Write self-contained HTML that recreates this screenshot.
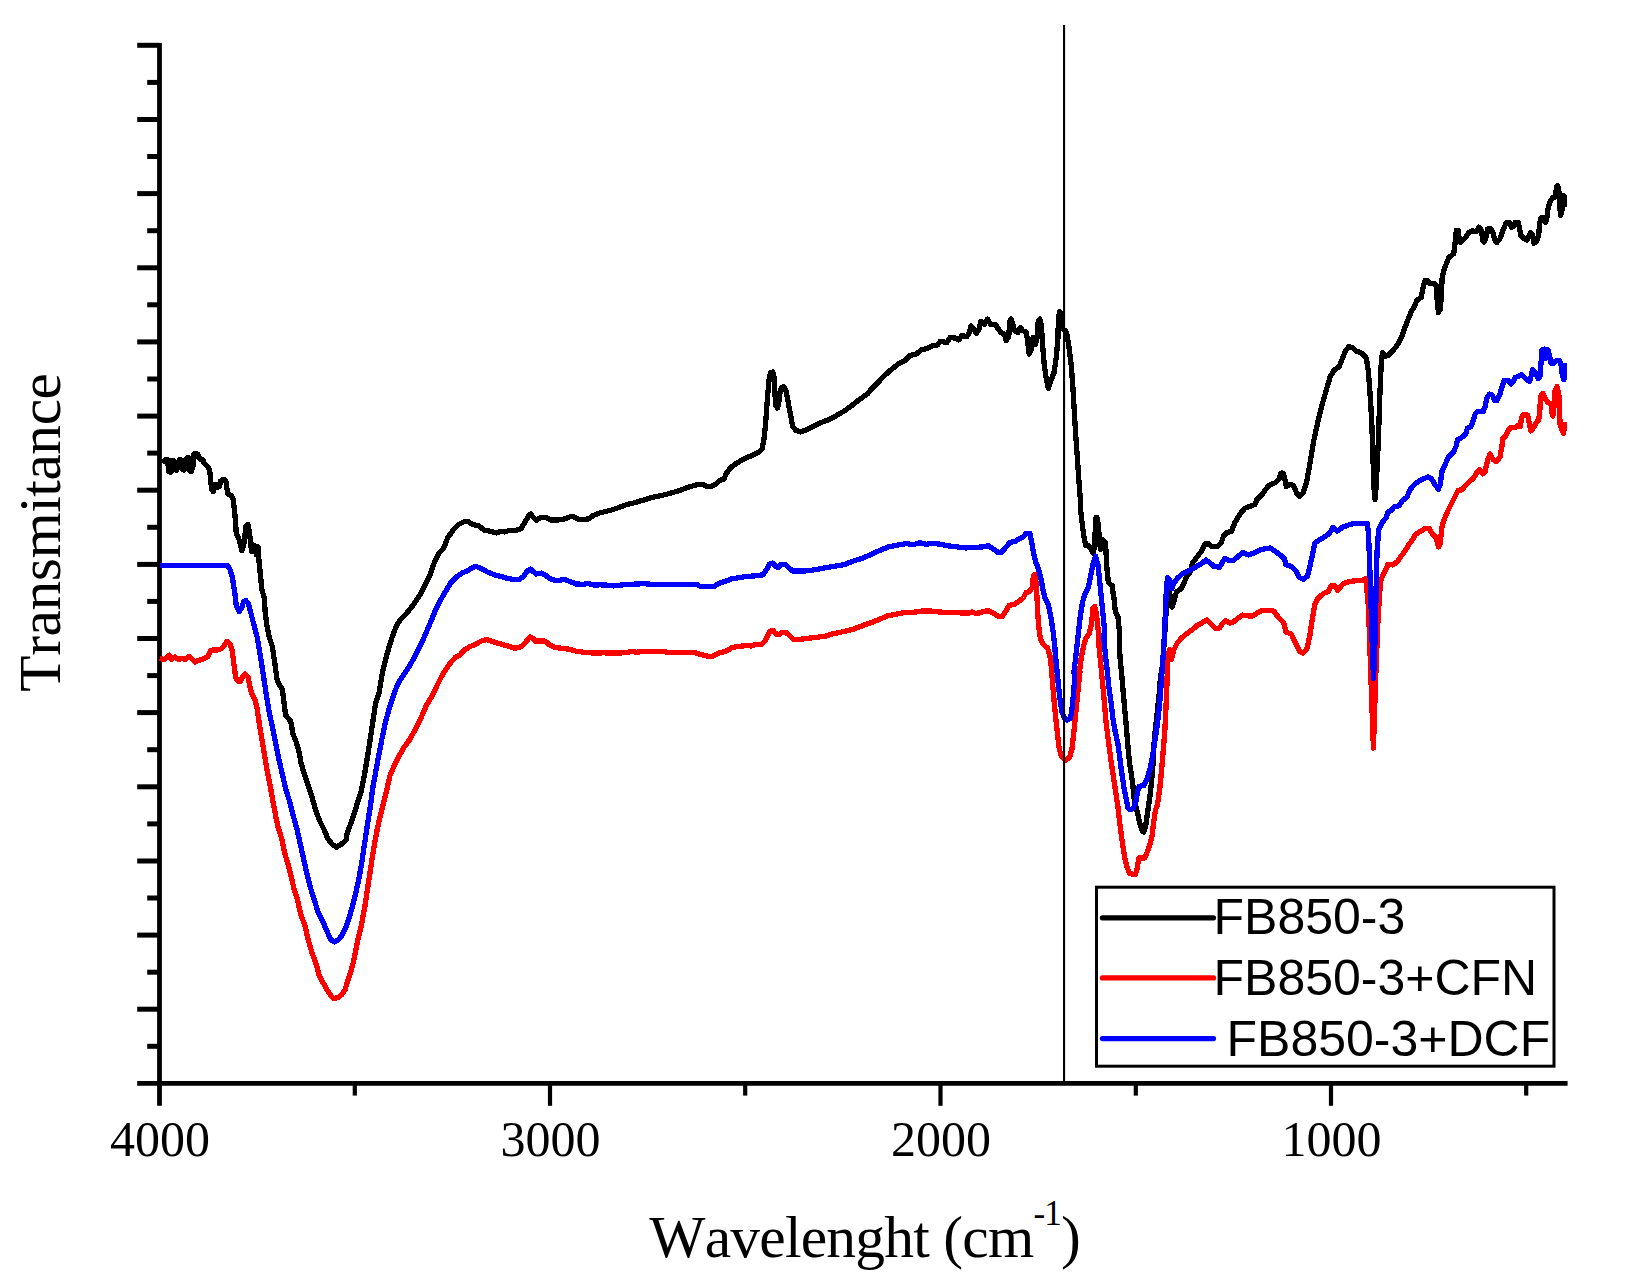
<!DOCTYPE html>
<html lang="en"><head><meta charset="utf-8"><title>FTIR spectra</title>
<style>
html,body{margin:0;padding:0;background:#fff;}
body{width:1626px;height:1277px;overflow:hidden;}
svg{display:block;}
.serif{font-family:"Liberation Serif","Times New Roman",serif;}
.sans{font-family:"Liberation Sans",Arial,sans-serif;}
</style></head><body>
<svg width="1626" height="1277" viewBox="0 0 1626 1277">
<rect width="1626" height="1277" fill="#fff"/>
<g stroke="#000" stroke-width="4.8" stroke-linecap="butt" fill="none">
<line x1="159.5" y1="43.0" x2="159.5" y2="1105.8"/>
<line x1="137.2" y1="1083.4" x2="1567.6" y2="1083.4"/>
<line x1="137.2" y1="45.3" x2="159.5" y2="45.3" stroke-width="5"/>
<line x1="147.2" y1="82.4" x2="159.5" y2="82.4" stroke-width="5"/>
<line x1="137.2" y1="119.5" x2="159.5" y2="119.5" stroke-width="5"/>
<line x1="147.2" y1="156.5" x2="159.5" y2="156.5" stroke-width="5"/>
<line x1="137.2" y1="193.6" x2="159.5" y2="193.6" stroke-width="5"/>
<line x1="147.2" y1="230.7" x2="159.5" y2="230.7" stroke-width="5"/>
<line x1="137.2" y1="267.8" x2="159.5" y2="267.8" stroke-width="5"/>
<line x1="147.2" y1="304.8" x2="159.5" y2="304.8" stroke-width="5"/>
<line x1="137.2" y1="341.9" x2="159.5" y2="341.9" stroke-width="5"/>
<line x1="147.2" y1="379.0" x2="159.5" y2="379.0" stroke-width="5"/>
<line x1="137.2" y1="416.1" x2="159.5" y2="416.1" stroke-width="5"/>
<line x1="147.2" y1="453.1" x2="159.5" y2="453.1" stroke-width="5"/>
<line x1="137.2" y1="490.2" x2="159.5" y2="490.2" stroke-width="5"/>
<line x1="147.2" y1="527.3" x2="159.5" y2="527.3" stroke-width="5"/>
<line x1="137.2" y1="564.4" x2="159.5" y2="564.4" stroke-width="5"/>
<line x1="147.2" y1="601.4" x2="159.5" y2="601.4" stroke-width="5"/>
<line x1="137.2" y1="638.5" x2="159.5" y2="638.5" stroke-width="5"/>
<line x1="147.2" y1="675.6" x2="159.5" y2="675.6" stroke-width="5"/>
<line x1="137.2" y1="712.6" x2="159.5" y2="712.6" stroke-width="5"/>
<line x1="147.2" y1="749.7" x2="159.5" y2="749.7" stroke-width="5"/>
<line x1="137.2" y1="786.8" x2="159.5" y2="786.8" stroke-width="5"/>
<line x1="147.2" y1="823.9" x2="159.5" y2="823.9" stroke-width="5"/>
<line x1="137.2" y1="861.0" x2="159.5" y2="861.0" stroke-width="5"/>
<line x1="147.2" y1="898.0" x2="159.5" y2="898.0" stroke-width="5"/>
<line x1="137.2" y1="935.1" x2="159.5" y2="935.1" stroke-width="5"/>
<line x1="147.2" y1="972.2" x2="159.5" y2="972.2" stroke-width="5"/>
<line x1="137.2" y1="1009.2" x2="159.5" y2="1009.2" stroke-width="5"/>
<line x1="147.2" y1="1046.3" x2="159.5" y2="1046.3" stroke-width="5"/>
<line x1="550.0" y1="1083.4" x2="550.0" y2="1105.8" stroke-width="4.2"/>
<line x1="940.5" y1="1083.4" x2="940.5" y2="1105.8" stroke-width="4.2"/>
<line x1="1331.0" y1="1083.4" x2="1331.0" y2="1105.8" stroke-width="4.2"/>
<line x1="354.8" y1="1083.4" x2="354.8" y2="1095.6" stroke-width="4.2"/>
<line x1="745.2" y1="1083.4" x2="745.2" y2="1095.6" stroke-width="4.2"/>
<line x1="1135.8" y1="1083.4" x2="1135.8" y2="1095.6" stroke-width="4.2"/>
<line x1="1526.2" y1="1083.4" x2="1526.2" y2="1095.6" stroke-width="4.2"/>
</g>
<g fill="none" stroke-linejoin="round" stroke-linecap="butt" stroke-width="5.3" shape-rendering="crispEdges">
<polyline stroke="#000" points="162.0,462.0 164.0,460.8 165.6,459.6 167.2,459.2 168.0,464.4 168.8,471.6 169.6,463.6 170.4,460.4 170.9,472.4 172.0,462.0 172.8,460.4 173.6,470.0 174.4,461.2 175.2,462.0 176.4,470.4 177.6,467.6 178.8,462.0 180.0,459.2 181.6,462.0 182.4,469.2 184.0,470.0 185.6,465.2 186.0,458.8 188.0,457.2 189.2,462.0 189.6,470.8 191.2,471.6 192.8,467.6 193.8,462.0 193.6,454.8 195.6,453.2 197.6,454.0 198.8,457.2 200.4,459.2 202.8,459.6 204.4,463.6 206.0,465.2 208.8,467.6 210.0,473.2 210.8,481.2 211.6,489.2 213.2,491.6 214.8,487.6 215.6,484.4 217.6,487.6 219.6,486.0 220.4,481.2 223.6,479.2 225.9,481.2 226.8,487.6 227.6,493.2 229.2,494.8 231.6,495.6 233.2,499.6 234.3,508.4 235.2,518.0 236.3,533.9 238.8,538.7 241.9,550.7 244.3,541.9 245.9,525.9 247.9,524.3 249.5,532.3 251.5,551.5 253.9,545.1 256.3,554.7 257.9,546.7 258.7,557.9 260.3,573.9 261.9,589.9 264.3,597.9 265.1,611.2 266.7,624.0 269.1,636.8 272.3,646.4 274.7,662.4 277.1,680.0 279.5,684.8 282.4,689.5 284.0,702.3 285.6,715.1 288.3,718.3 290.7,721.5 293.1,734.3 296.3,742.3 298.7,750.3 301.1,763.1 304.3,774.3 308.3,785.5 311.5,795.1 313.1,801.2 316.4,812.4 319.5,820.4 324.3,830.0 327.5,838.0 331.5,843.6 336.3,847.2 341.1,844.4 345.9,840.4 347.1,833.2 350.7,823.6 354.7,812.4 357.9,801.2 361.1,791.9 364.3,775.9 367.5,756.7 370.7,735.9 373.1,719.9 375.5,703.9 378.8,694.0 382.8,670.7 386.8,654.7 391.6,638.7 396.4,625.9 401.2,618.7 406.8,613.1 413.2,605.1 419.6,595.5 425.2,584.3 430.0,574.8 434.0,563.5 438.8,553.2 443.6,548.4 447.6,538.0 453.1,530.0 458.8,524.4 463.5,522.0 467.5,521.2 472.3,524.4 478.7,526.0 484.3,530.0 491.5,531.6 496.3,532.9 501.1,531.2 504.3,531.9 509.9,530.3 515.5,530.8 521.1,528.4 525.1,522.0 528.3,516.4 530.7,514.0 533.9,518.0 536.3,520.4 540.3,517.5 545.1,517.2 550.7,520.1 557.1,520.1 563.5,519.3 569.9,516.9 573.1,516.4 577.9,519.1 583.5,519.6 589.1,518.8 593.1,515.6 598.7,513.2 605.1,511.6 611.5,510.0 617.9,507.9 620.0,507.1 626.4,504.7 634.4,502.8 644.0,499.9 652.0,497.5 660.0,495.9 669.6,493.5 679.2,490.6 688.8,487.1 696.8,484.7 704.0,484.7 706.4,486.3 711.9,486.3 715.9,483.9 719.9,480.4 723.9,479.1 726.3,473.5 730.3,467.9 736.7,463.1 744.7,458.6 752.7,455.1 759.1,451.9 762.3,448.7 763.9,439.1 765.5,424.8 766.8,407.2 767.9,392.8 769.0,380.0 770.6,372.8 772.7,372.0 774.0,376.8 774.8,392.8 775.9,405.6 777.5,408.0 779.1,400.8 780.2,391.2 781.5,387.2 783.9,386.9 786.0,391.2 787.9,400.8 790.3,413.6 792.7,426.4 795.9,430.3 800.7,431.9 805.5,430.3 811.9,427.1 819.9,423.1 827.9,419.9 835.9,415.9 843.9,411.2 851.9,405.6 859.9,399.2 867.9,393.6 870.0,390.7 876.4,384.3 882.8,377.1 890.8,369.9 898.8,363.6 905.2,360.4 910.0,355.6 916.4,354.0 921.2,350.0 927.6,348.4 932.4,346.0 937.2,345.2 940.4,341.2 946.8,342.8 950.0,337.6 954.8,338.0 958.8,339.9 961.9,335.6 966.7,336.7 969.1,333.2 971.1,326.0 973.9,329.2 976.3,333.2 979.5,328.4 980.6,321.2 984.3,324.4 987.5,319.1 990.7,324.4 995.5,324.4 997.9,328.4 1001.1,332.9 1004.3,334.0 1006.2,340.4 1008.8,336.4 1009.6,322.0 1011.0,319.1 1012.6,323.6 1014.7,330.8 1017.9,332.4 1020.3,327.6 1022.7,330.8 1025.9,331.6 1027.5,339.6 1029.1,354.0 1031.5,349.2 1033.1,337.2 1035.5,344.4 1037.1,338.0 1038.2,321.2 1039.8,319.1 1041.4,325.2 1042.7,346.0 1044.3,365.1 1045.9,376.4 1048.3,388.3 1050.7,381.1 1053.9,373.1 1056.3,357.2 1057.9,338.0 1058.4,318.0 1059.6,311.8 1061.0,314.0 1062.0,328.0 1065.5,331.0 1066.6,333.0 1069.0,347.0 1071.3,365.8 1072.9,387.8 1074.2,409.7 1075.6,433.2 1077.3,456.7 1078.9,480.3 1080.4,500.2 1080.8,511.6 1082.0,522.0 1083.2,531.6 1084.4,539.6 1085.6,545.2 1088.8,546.0 1091.2,549.2 1093.2,553.2 1094.8,546.0 1095.2,530.0 1096.0,517.6 1097.2,517.6 1098.4,526.0 1099.2,536.4 1099.8,545.2 1100.6,549.2 1101.4,545.2 1102.4,539.7 1105.2,542.1 1105.7,546.0 1106.0,551.6 1106.4,558.8 1106.8,566.8 1107.6,574.8 1108.4,582.7 1110.4,584.3 1112.4,585.9 1112.9,592.0 1113.8,596.7 1115.5,612.7 1117.8,615.9 1119.5,631.9 1119.9,656.0 1121.5,672.0 1123.1,691.2 1124.7,708.8 1126.3,726.4 1127.9,745.5 1129.5,763.1 1131.1,772.7 1132.7,783.9 1134.3,799.9 1137.5,812.7 1139.9,823.9 1142.3,831.1 1143.9,831.9 1145.5,827.1 1147.1,815.9 1148.7,804.7 1150.3,793.5 1151.9,777.5 1153.0,764.7 1154.3,739.1 1156.7,716.8 1159.0,696.0 1160.5,676.8 1162.8,663.9 1164.2,641.5 1165.7,619.1 1166.9,596.8 1168.1,585.6 1170.0,595.1 1171.9,607.1 1174.8,598.4 1176.4,592.0 1181.2,588.8 1184.4,582.4 1186.0,577.6 1190.8,571.2 1192.4,563.2 1197.2,556.8 1202.0,550.4 1205.2,544.0 1207.5,543.2 1211.5,546.4 1217.2,546.4 1221.1,543.2 1223.5,536.0 1226.7,532.8 1231.5,531.2 1235.2,521.9 1240.0,513.9 1244.8,508.3 1251.2,505.9 1255.2,504.3 1256.8,499.5 1262.4,493.9 1267.2,487.5 1269.6,485.1 1275.2,482.7 1279.2,478.7 1280.8,473.1 1283.2,473.1 1284.8,478.7 1286.3,486.7 1290.3,484.3 1293.5,485.9 1296.7,493.1 1299.1,496.3 1303.1,493.1 1306.3,483.5 1308.7,470.7 1311.1,456.3 1313.5,441.9 1315.9,430.7 1319.1,416.4 1321.5,406.8 1324.7,395.6 1327.9,384.4 1330.3,376.4 1334.3,370.0 1339.1,366.8 1342.3,358.8 1345.5,350.8 1348.7,346.8 1351.9,347.3 1355.9,350.8 1361.5,353.2 1366.3,358.0 1368.2,370.0 1369.5,386.0 1370.8,405.1 1371.9,425.9 1372.7,449.9 1373.5,473.9 1374.3,493.1 1375.1,499.5 1375.9,489.9 1377.2,465.9 1378.3,441.9 1379.1,417.9 1379.9,394.0 1380.7,374.8 1381.5,358.8 1382.6,352.4 1384.7,356.4 1387.9,355.6 1393.5,350.0 1398.3,343.6 1401.5,337.2 1403.9,330.0 1408.3,318.8 1411.4,311.4 1414.4,306.5 1416.9,300.4 1421.2,297.3 1423.0,288.1 1424.9,280.7 1427.4,280.7 1429.8,283.8 1434.1,283.2 1436.0,285.0 1437.2,300.4 1438.4,312.7 1440.3,309.0 1441.5,293.0 1442.1,278.2 1444.0,269.6 1446.4,263.5 1448.9,257.3 1453.8,253.6 1455.0,243.8 1456.3,230.3 1458.1,230.3 1459.3,240.1 1460.6,242.6 1464.9,238.3 1468.6,232.7 1472.2,230.9 1476.6,231.5 1479.0,227.2 1481.5,230.3 1482.7,240.1 1484.3,242.0 1486.4,236.4 1487.6,229.0 1490.1,228.4 1492.5,231.5 1495.0,240.1 1496.8,242.6 1499.9,238.9 1503.0,230.3 1506.1,222.9 1509.8,222.9 1511.6,227.2 1514.1,226.0 1515.3,222.3 1518.4,222.3 1519.6,229.0 1520.8,235.2 1523.9,238.3 1527.0,240.1 1529.5,235.2 1530.7,232.7 1532.5,235.2 1533.8,243.2 1536.8,241.3 1538.7,234.0 1539.9,222.9 1541.1,218.0 1543.6,217.4 1545.4,222.3 1546.7,219.2 1547.9,209.4 1549.1,204.4 1551.0,200.1 1552.8,197.7 1555.3,197.1 1556.5,187.2 1557.7,185.4 1559.0,192.1 1559.8,206.9 1560.6,215.5 1561.8,211.8 1562.7,202.0 1563.3,195.2 1564.5,196.4 1564.5,206.9"/>
<polyline stroke="#f00" points="159.6,658.4 164.4,659.5 166.8,657.6 169.2,655.2 171.6,659.5 174.8,656.8 178.0,659.2 182.0,658.8 186.0,659.2 189.2,656.3 192.4,659.5 194.8,662.0 198.0,660.4 202.8,659.2 207.6,656.8 210.8,650.4 213.2,649.9 217.2,649.9 221.2,648.8 224.3,645.6 227.1,641.2 229.9,644.0 232.3,651.2 233.9,664.0 235.6,676.8 237.6,680.8 240.3,681.5 242.7,676.8 245.1,673.9 247.9,676.8 249.5,684.8 251.5,692.7 254.7,699.1 257.1,708.7 259.5,724.7 261.9,739.1 264.3,753.5 267.5,772.7 270.7,788.7 273.2,802.8 275.6,815.6 278.0,826.8 282.0,839.6 284.4,852.4 288.4,865.1 291.6,878.0 294.0,889.1 297.2,898.7 300.4,913.1 302.8,920.0 305.2,926.4 306.8,934.4 309.2,943.2 312.0,952.8 314.8,960.0 317.2,968.0 318.8,974.4 322.0,980.8 325.2,986.4 328.4,992.0 331.6,996.8 334.0,998.4 338.0,997.5 342.0,994.4 345.1,989.6 346.8,984.0 348.8,977.6 351.1,970.4 353.1,963.2 354.8,955.2 356.4,947.2 357.9,939.2 359.9,931.2 361.5,924.8 362.3,920.0 365.1,905.1 367.5,889.1 369.9,873.1 372.3,857.2 374.7,842.8 377.1,830.0 380.3,815.6 383.5,802.8 386.7,790.0 389.9,775.9 393.9,766.3 398.6,756.7 404.2,747.1 410.0,739.1 416.0,727.9 420.8,718.3 426.4,705.5 433.2,694.0 437.2,685.1 441.2,677.1 445.1,670.7 449.9,663.5 455.6,657.1 459.5,655.5 464.3,649.9 469.9,646.7 475.5,644.3 481.1,641.1 486.7,639.5 491.5,641.1 496.3,642.7 501.9,644.3 507.5,645.9 514.7,648.3 521.1,646.7 525.9,641.9 529.9,636.8 532.3,637.9 535.5,641.1 540.3,641.1 545.1,641.1 549.9,645.1 555.5,647.5 561.9,648.3 568.3,649.1 576.3,651.2 584.3,652.3 593.9,653.1 603.5,652.8 613.0,653.1 621.0,652.8 620.0,653.1 629.6,652.0 632.8,651.2 636.0,652.3 644.0,651.5 663.2,651.5 668.0,652.3 684.0,652.3 693.5,652.3 700.0,654.2 708.0,656.3 712.7,656.3 719.1,653.1 727.1,650.7 731.9,647.5 738.3,646.4 746.3,645.6 751.1,645.9 755.9,644.6 762.3,644.0 765.5,640.3 769.5,631.5 772.7,630.2 775.9,633.9 779.1,634.4 782.3,632.3 786.3,632.8 790.3,636.3 793.5,639.2 800.7,639.2 808.7,638.2 818.3,637.1 826.3,636.0 832.7,633.9 843.9,631.5 853.5,629.1 863.0,625.5 871.0,622.7 870.0,623.1 878.0,619.9 887.6,615.9 895.6,614.3 903.6,612.7 913.2,612.4 921.2,611.1 930.8,611.1 938.8,611.9 946.8,612.7 954.8,612.7 964.3,613.0 969.1,613.0 972.3,611.9 975.5,613.5 980.3,612.7 985.1,611.1 989.1,611.1 993.9,613.5 997.9,616.2 1001.9,616.7 1005.9,611.1 1009.1,605.5 1013.9,604.4 1018.7,601.5 1023.5,597.5 1025.9,592.7 1029.9,591.1 1032.3,587.1 1033.4,575.9 1035.0,574.3 1036.3,583.9 1037.1,599.9 1037.9,615.9 1039.2,630.3 1040.3,638.3 1043.5,644.7 1047.5,647.9 1049.9,655.9 1051.5,668.7 1052.8,686.4 1054.4,704.0 1056.0,720.0 1057.6,734.3 1059.2,748.7 1061.6,756.7 1065.6,760.2 1069.6,757.5 1072.0,748.7 1073.6,734.3 1075.2,718.4 1076.8,702.4 1078.4,686.4 1080.0,672.0 1079.5,671.9 1081.1,659.1 1083.5,646.3 1085.9,638.3 1089.1,633.5 1091.5,623.9 1093.1,607.9 1094.7,606.3 1096.3,612.7 1097.9,627.1 1099.5,643.1 1098.3,640.0 1100.0,656.0 1101.5,672.0 1103.2,689.6 1104.8,707.2 1106.3,724.8 1108.8,743.9 1111.1,761.5 1118.4,810.0 1119.6,822.0 1121.2,834.0 1122.8,846.0 1124.8,858.0 1127.2,867.6 1129.6,873.2 1132.0,874.0 1135.2,874.4 1136.8,870.8 1138.0,862.8 1138.8,858.0 1141.6,858.0 1144.8,858.0 1146.8,853.2 1148.8,847.6 1150.8,841.2 1152.4,834.0 1153.2,826.0 1154.3,818.0 1155.5,810.0 1157.5,804.7 1159.9,787.1 1161.5,771.1 1163.1,751.9 1164.7,732.7 1165.8,712.0 1166.8,688.0 1167.4,668.8 1167.9,656.0 1169.5,649.6 1171.1,657.6 1171.6,659.1 1174.0,649.5 1177.2,643.1 1181.2,638.3 1186.0,634.3 1192.4,629.5 1197.2,625.5 1202.8,622.3 1206.8,619.9 1210.8,623.9 1215.5,628.7 1219.5,627.9 1223.5,622.3 1225.9,620.7 1229.9,623.1 1233.9,621.5 1238.7,617.5 1242.7,615.1 1248.3,615.9 1253.1,615.9 1257.9,612.7 1262.7,610.3 1269.1,610.3 1273.9,611.1 1277.9,616.7 1283.5,622.3 1285.9,631.9 1291.5,634.3 1295.5,643.1 1299.5,651.1 1302.7,653.0 1306.7,649.5 1309.9,635.1 1312.3,619.1 1314.7,604.8 1317.9,598.4 1323.5,593.5 1328.3,591.2 1331.5,585.6 1334.7,585.6 1337.9,590.4 1342.7,584.0 1349.1,581.6 1355.5,580.8 1361.9,580.8 1365.8,578.4 1366.5,585.0 1368.5,608.0 1371.0,680.0 1373.4,748.0 1375.6,680.0 1377.8,624.0 1379.5,595.0 1381.0,580.0 1382.4,576.5 1385.5,570.4 1388.0,564.2 1392.9,564.9 1397.2,561.8 1401.5,555.6 1405.2,550.7 1408.9,544.5 1412.6,539.6 1415.0,534.7 1420.0,531.6 1424.9,528.6 1429.2,528.6 1432.2,533.5 1435.9,537.2 1438.4,547.0 1440.2,543.3 1442.1,526.1 1444.5,518.7 1448.2,510.1 1451.9,502.7 1455.6,495.4 1458.1,490.4 1461.8,489.8 1465.5,485.5 1469.2,481.8 1473.5,478.1 1477.2,472.0 1479.6,469.5 1482.7,473.8 1485.1,472.0 1487.6,459.7 1490.1,454.1 1493.1,459.7 1496.2,461.5 1499.9,457.2 1501.8,447.4 1503.0,438.2 1505.5,436.4 1507.9,430.9 1510.4,427.8 1514.7,427.8 1517.2,425.9 1520.2,426.6 1521.5,418.6 1522.7,414.9 1527.6,414.9 1528.8,421.0 1530.7,430.9 1533.1,428.4 1535.6,423.5 1538.7,419.8 1539.9,409.9 1540.5,396.4 1543.0,393.4 1545.4,398.9 1547.9,402.6 1551.0,403.8 1551.6,411.2 1552.8,416.1 1554.0,406.3 1554.7,391.5 1557.1,386.6 1559.0,396.4 1559.6,413.6 1560.2,425.9 1562.0,429.6 1563.3,433.3 1564.5,427.2 1564.5,421.6"/>
<polyline stroke="#00f" points="159.6,565.6 227.6,565.6 229.9,569.1 232.3,577.1 234.8,593.1 236.3,605.9 239.2,611.5 241.9,607.5 243.5,601.9 245.6,600.3 248.3,603.5 250.7,612.3 253.1,621.9 257.1,636.8 259.5,651.2 261.9,665.6 264.3,681.5 266.7,697.5 269.1,711.9 272.3,726.3 275.5,742.3 278.7,758.3 282.7,775.9 286.0,790.0 290.0,802.8 293.2,815.6 297.2,830.0 300.4,844.4 303.6,858.8 306.8,873.1 309.9,885.9 313.9,898.7 317.9,911.5 322.7,921.1 326.7,930.7 330.7,939.5 334.3,941.9 337.9,940.3 341.9,935.5 345.9,927.5 349.1,917.9 352.3,906.7 355.5,893.9 358.7,879.5 361.1,866.8 363.5,850.8 365.9,834.8 368.3,818.8 370.7,804.4 372.6,788.7 375.6,772.7 378.7,755.1 381.9,739.1 385.2,723.1 388.7,710.3 392.2,699.1 397.2,685.1 402.0,677.1 407.6,669.1 413.2,659.5 418.0,649.9 422.8,640.3 427.6,629.1 432.4,617.9 435.6,609.9 440.4,600.3 445.9,590.7 450.8,582.7 456.4,577.1 461.9,573.1 467.5,570.8 472.3,567.5 476.3,566.4 481.9,569.1 488.3,572.4 496.3,575.5 501.1,576.4 505.9,578.0 512.3,579.2 519.5,579.2 523.5,576.4 527.5,570.8 530.7,569.1 533.1,571.5 536.3,574.0 541.1,573.1 545.1,574.8 549.1,578.0 555.5,580.8 559.5,580.3 564.3,579.5 569.9,581.5 576.3,584.0 582.7,584.3 588.3,583.5 593.9,585.1 600.3,584.8 606.6,585.1 613.0,585.9 619.5,585.5 620.0,585.1 629.6,584.4 639.2,583.9 642.4,583.5 652.0,584.4 669.6,584.7 684.0,584.4 696.8,584.4 700.0,586.3 714.3,586.3 719.1,583.2 725.5,581.2 731.9,578.8 741.5,577.2 747.9,576.4 757.5,575.6 763.1,574.8 766.3,570.0 769.5,564.0 772.7,563.1 775.9,566.8 778.3,567.6 780.7,564.4 785.5,564.7 789.5,568.4 792.7,571.1 799.1,571.1 807.1,570.8 816.7,569.5 826.3,567.6 834.3,566.3 843.9,564.7 851.9,561.5 863.0,558.0 871.0,554.5 870.0,555.1 878.0,551.2 887.6,547.2 898.8,544.8 906.8,543.6 913.2,544.8 919.6,542.7 926.0,544.3 933.2,543.2 940.4,544.3 948.4,545.9 956.4,546.8 965.9,548.0 972.3,547.2 978.7,547.2 983.5,546.8 988.3,545.6 993.1,548.8 997.9,552.3 1001.9,552.0 1005.9,547.2 1009.9,542.4 1014.7,541.6 1019.5,538.8 1023.5,536.8 1025.9,533.6 1029.9,533.6 1031.5,540.8 1033.1,550.4 1035.5,561.5 1038.7,569.5 1041.1,579.1 1042.7,588.7 1045.1,598.3 1048.3,604.7 1050.7,615.9 1053.1,631.9 1054.7,644.7 1055.2,652.8 1056.8,668.8 1058.4,684.8 1060.0,699.2 1061.9,712.0 1064.8,718.4 1067.2,720.0 1070.4,718.4 1072.0,708.8 1073.6,692.8 1074.7,676.8 1073.9,671.9 1075.5,659.1 1077.1,644.7 1078.7,630.3 1080.3,615.9 1082.7,601.5 1085.1,593.5 1088.3,587.1 1090.7,575.9 1093.1,563.1 1095.5,556.0 1097.9,564.8 1099.5,579.1 1101.1,595.1 1102.7,611.1 1104.3,627.1 1104.0,640.0 1105.5,656.0 1107.2,670.4 1108.8,686.4 1111.1,702.4 1112.7,716.8 1115.1,731.1 1117.9,743.9 1119.9,758.3 1121.5,771.1 1123.9,787.1 1126.3,799.9 1127.9,807.9 1130.3,809.8 1133.5,807.9 1135.9,801.5 1137.5,791.9 1139.1,786.3 1143.9,785.5 1147.1,779.1 1150.3,767.9 1152.7,755.1 1154.3,743.9 1155.9,734.3 1157.5,723.1 1159.1,708.8 1159.6,703.9 1161.2,683.1 1162.8,660.7 1164.4,635.1 1165.5,609.5 1166.5,587.2 1167.6,577.6 1170.0,580.8 1171.6,588.8 1174.0,583.2 1177.2,578.4 1182.8,573.6 1189.2,570.4 1195.6,567.2 1202.0,563.2 1206.0,560.0 1210.0,562.9 1214.0,566.4 1219.5,567.2 1222.7,561.6 1225.1,558.4 1229.1,560.8 1233.9,560.0 1238.7,556.0 1242.7,552.3 1248.3,554.9 1254.7,552.8 1260.3,549.6 1265.1,548.8 1269.9,548.0 1273.9,550.4 1279.5,554.4 1284.3,558.4 1285.9,564.8 1291.5,566.4 1296.3,571.2 1299.5,577.6 1303.5,579.2 1307.5,576.0 1309.9,566.4 1312.3,555.2 1314.7,543.2 1317.9,540.8 1323.5,537.6 1329.1,533.6 1333.1,527.2 1337.1,531.2 1342.7,527.2 1349.1,524.8 1355.5,523.2 1361.9,523.2 1367.5,523.5 1368.6,536.0 1369.5,560.0 1370.7,592.0 1371.8,631.9 1373.0,663.9 1373.4,678.3 1374.3,663.9 1375.5,623.9 1376.2,584.0 1377.0,552.0 1378.7,529.6 1381.8,523.2 1386.1,517.5 1388.0,512.0 1391.7,510.1 1394.1,507.0 1399.0,505.8 1402.7,500.3 1407.0,497.2 1409.5,490.4 1413.8,484.9 1418.7,481.2 1423.6,478.8 1428.0,476.9 1431.6,478.8 1434.7,484.3 1438.4,489.2 1440.2,484.3 1442.1,470.8 1445.2,464.6 1448.2,457.2 1453.2,452.3 1456.2,446.1 1457.5,440.0 1461.2,437.6 1465.5,434.6 1467.3,428.4 1471.0,426.6 1473.5,419.8 1475.3,413.6 1478.4,411.2 1483.3,411.2 1485.2,406.3 1487.0,397.6 1489.5,394.0 1492.5,395.2 1494.4,400.1 1496.8,400.7 1499.9,394.0 1502.4,385.4 1504.2,380.4 1507.9,380.4 1511.0,384.1 1513.5,381.1 1515.3,377.4 1519.0,376.1 1521.5,374.9 1525.1,378.0 1529.5,381.7 1531.3,375.5 1532.5,369.4 1535.0,371.8 1538.1,378.6 1539.9,376.7 1541.1,362.0 1541.8,349.7 1544.8,349.1 1545.4,358.3 1547.9,349.7 1549.7,355.8 1551.0,363.2 1553.4,363.2 1555.9,360.8 1559.6,360.8 1561.4,365.7 1562.0,373.1 1563.9,379.8 1564.3,363.2"/>
</g>
<rect x="1063" y="25" width="2.1" height="1058" fill="#000"/>
<g class="serif" font-size="50" text-anchor="middle" fill="#000">
<text x="160.0" y="1155.8">4000</text>
<text x="550.5" y="1155.8">3000</text>
<text x="941.0" y="1155.8">2000</text>
<text x="1331.5" y="1155.8">1000</text>
</g>
<text class="serif" font-size="59.5" x="864.7" y="1257" style="font-kerning:none;letter-spacing:-0.76px" text-anchor="middle" fill="#000">Wavelenght (cm<tspan font-size="35" dy="-32">-1</tspan><tspan dy="32">)</tspan></text>
<text class="serif" font-size="59.5" text-anchor="middle" fill="#000" style="font-kerning:none;letter-spacing:-0.46px" transform="translate(60.3,532.6) rotate(-90)">Transmitance</text>
<rect x="1096.5" y="887.2" width="457.5" height="179" fill="#fff" stroke="#000" stroke-width="3"/>
<g stroke-width="5.2" stroke-linecap="round">
<line x1="1102.4" y1="917.8" x2="1213.5" y2="917.8" stroke="#000"/>
<line x1="1102.4" y1="977.9" x2="1213.5" y2="977.9" stroke="#f00"/>
<line x1="1102.4" y1="1038.6" x2="1213.5" y2="1038.6" stroke="#00f"/>
</g>
<g class="sans" font-size="50" fill="#000" style="font-kerning:none">
<text x="1213.5" y="933.9">FB850-3</text>
<text x="1213.5" y="994.9">FB850-3+CFN</text>
<text x="1226.5" y="1055.7">FB850-3+DCF</text>
</g>
</svg></body></html>
